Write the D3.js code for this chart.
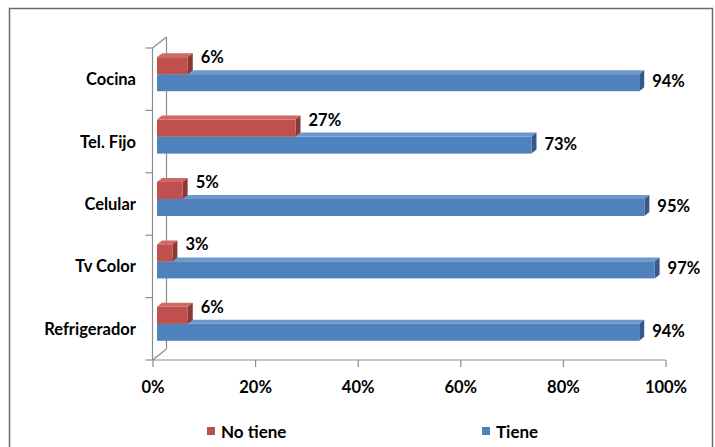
<!DOCTYPE html>
<html>
<head>
<meta charset="utf-8">
<script src="https://cdn.jsdelivr.net/npm/d3@7"></script>
<style>
  html, body { margin: 0; padding: 0; background: #fff; }
  svg { display: block; }
  text { font-family: Lato, "Open Sans", sans-serif; font-weight: 700; fill: #000; }
</style>
</head>
<body>
<svg id="chart" width="715" height="447"></svg>
<script>
// Tenencia de bienes en el hogar (%)
const categories = ["Cocina", "Tel. Fijo", "Celular", "Tv Color", "Refrigerador"];
const seriesNames = ["No tiene", "Tiene"];
const noTiene = [6, 27, 5, 3, 6];
const tiene = [94, 73, 95, 97, 94];
const xTicks = [0, 20, 40, 60, 80, 100];

const colors = {
  "No tiene": { front: "#C0504D", top: "#CD6966", side: "#8C3836" },
  "Tiene":    { front: "#4F81BD", top: "#6E98CC", side: "#36598A" }
};

const fontSize = "16.5px";
const svg = d3.select("#chart");

// outer frame
svg.append("rect")
  .attr("x", 9.5).attr("y", 8.5).attr("width", 703).attr("height", 450)
  .attr("fill", "none").attr("stroke", "#6b6b6b").attr("stroke-width", 1.5);

const x0 = 152.5, x1 = 665.5;       // front axis span
const yTop = 48, yBot = 360;        // front axis vertical span
const wallDx = 14, wallDy = -11;    // depth of the back wall
const barDx = 5, barDy = -4;        // depth of each bar

const x = d3.scaleLinear().domain([0, 100]).range([x0, x1]);
const xBar = d3.scaleLinear().domain([0, 100]).range([x0 + 4.5, x1 + 4.5]);
const y = d3.scaleBand().domain(categories).range([yTop, yBot]);
const ySub = d3.scaleBand().domain(seriesNames).range([-17, 17]);

const axisColor = "#8c8c8c";

// back wall and floor edges
const g3d = svg.append("g").attr("stroke", axisColor).attr("stroke-width", 1.2).attr("fill", "none");
g3d.append("line").attr("x1", x0 + wallDx).attr("y1", yTop + wallDy).attr("x2", x0 + wallDx).attr("y2", yBot + wallDy);
g3d.append("line").attr("x1", x0).attr("y1", yTop).attr("x2", x0 + wallDx).attr("y2", yTop + wallDy);
g3d.append("line").attr("x1", x0).attr("y1", yBot).attr("x2", x0 + wallDx).attr("y2", yBot + wallDy);

// category axis
const yAxis = d3.axisLeft(y).tickSize(0).tickFormat("");
const gy = svg.append("g").attr("transform", `translate(${x0},0)`).call(yAxis);
gy.select(".domain").remove();
gy.append("line").attr("x1", 0).attr("x2", 0).attr("y1", yTop).attr("y2", yBot)
  .attr("stroke", axisColor).attr("stroke-width", 1.2);
// tick marks between categories
const bounds = categories.map(c => y(c)).concat([yBot]);
gy.selectAll("line.sep").data(bounds).join("line").attr("class", "sep")
  .attr("x1", -7).attr("x2", 0).attr("y1", d => d).attr("y2", d => d)
  .attr("stroke", axisColor).attr("stroke-width", 1.2);
svg.append("g").selectAll("text").data(categories).join("text")
  .attr("x", 136).attr("y", d => y(d) + y.bandwidth() / 2)
  .attr("text-anchor", "end").attr("dominant-baseline", "central")
  .style("font-size", fontSize).text(d => d);

// value axis
const xAxis = d3.axisBottom(x).tickValues(xTicks).tickSize(7).tickFormat(d => d + "%");
const gx = svg.append("g").attr("transform", `translate(0,${yBot})`).call(xAxis);
gx.select(".domain").attr("stroke", axisColor).attr("stroke-width", 1.2)
  .attr("d", `M${x0},0H${x1}`);
gx.selectAll(".tick line").attr("stroke", axisColor).attr("stroke-width", 1.2);
gx.selectAll(".tick text").attr("y", 21).style("font-size", fontSize)
  .style("font-family", "Lato, 'Open Sans', sans-serif").style("font-weight", 700).attr("fill", "#000");

// bars, drawn back-to-front: "Tiene" first, then "No tiene" over it
const rows = [];
seriesNames.slice().reverse().forEach(s => {
  const vals = s === "Tiene" ? tiene : noTiene;
  categories.forEach((c, i) => rows.push({ cat: c, series: s, value: vals[i] }));
});

const barG = svg.append("g");
rows.forEach(d => {
  const col = colors[d.series];
  const yc = y(d.cat) + y.bandwidth() / 2 - 5;
  const top = yc + ySub(d.series);
  const h = ySub.bandwidth();
  const xa = xBar(0), xb = xBar(d.value);
  const g = barG.append("g");
  // top face
  g.append("path")
    .attr("d", `M${xa},${top}L${xa + barDx},${top + barDy}L${xb + barDx},${top + barDy}L${xb},${top}Z`)
    .attr("fill", col.top);
  // side face
  g.append("path")
    .attr("d", `M${xb},${top}L${xb + barDx},${top + barDy}L${xb + barDx},${top + h + barDy}L${xb},${top + h}Z`)
    .attr("fill", col.side);
  // front face
  g.append("rect").attr("x", xa).attr("y", top).attr("width", xb - xa).attr("height", h)
    .attr("fill", col.front);
});

// value labels
svg.append("g").selectAll("text").data(rows).join("text")
  .attr("x", d => xBar(d.value) + 13)
  .attr("y", d => {
    const yc = y(d.cat) + y.bandwidth() / 2 - 5;
    return d.series === "No tiene" ? yc - 17 : yc + 7;
  })
  .attr("dominant-baseline", "central")
  .style("font-size", fontSize)
  .text(d => d.value + "%");

// legend
const legendPos = { "No tiene": 207, "Tiene": 482 };
const lg = svg.append("g");
seriesNames.forEach(s => {
  lg.append("rect").attr("x", legendPos[s]).attr("y", 427).attr("width", 8).attr("height", 8)
    .attr("fill", colors[s].front);
  lg.append("text").attr("x", legendPos[s] + 14).attr("y", 431)
    .attr("dominant-baseline", "central").style("font-size", "17px").text(s);
});
</script>
</body>
</html>
